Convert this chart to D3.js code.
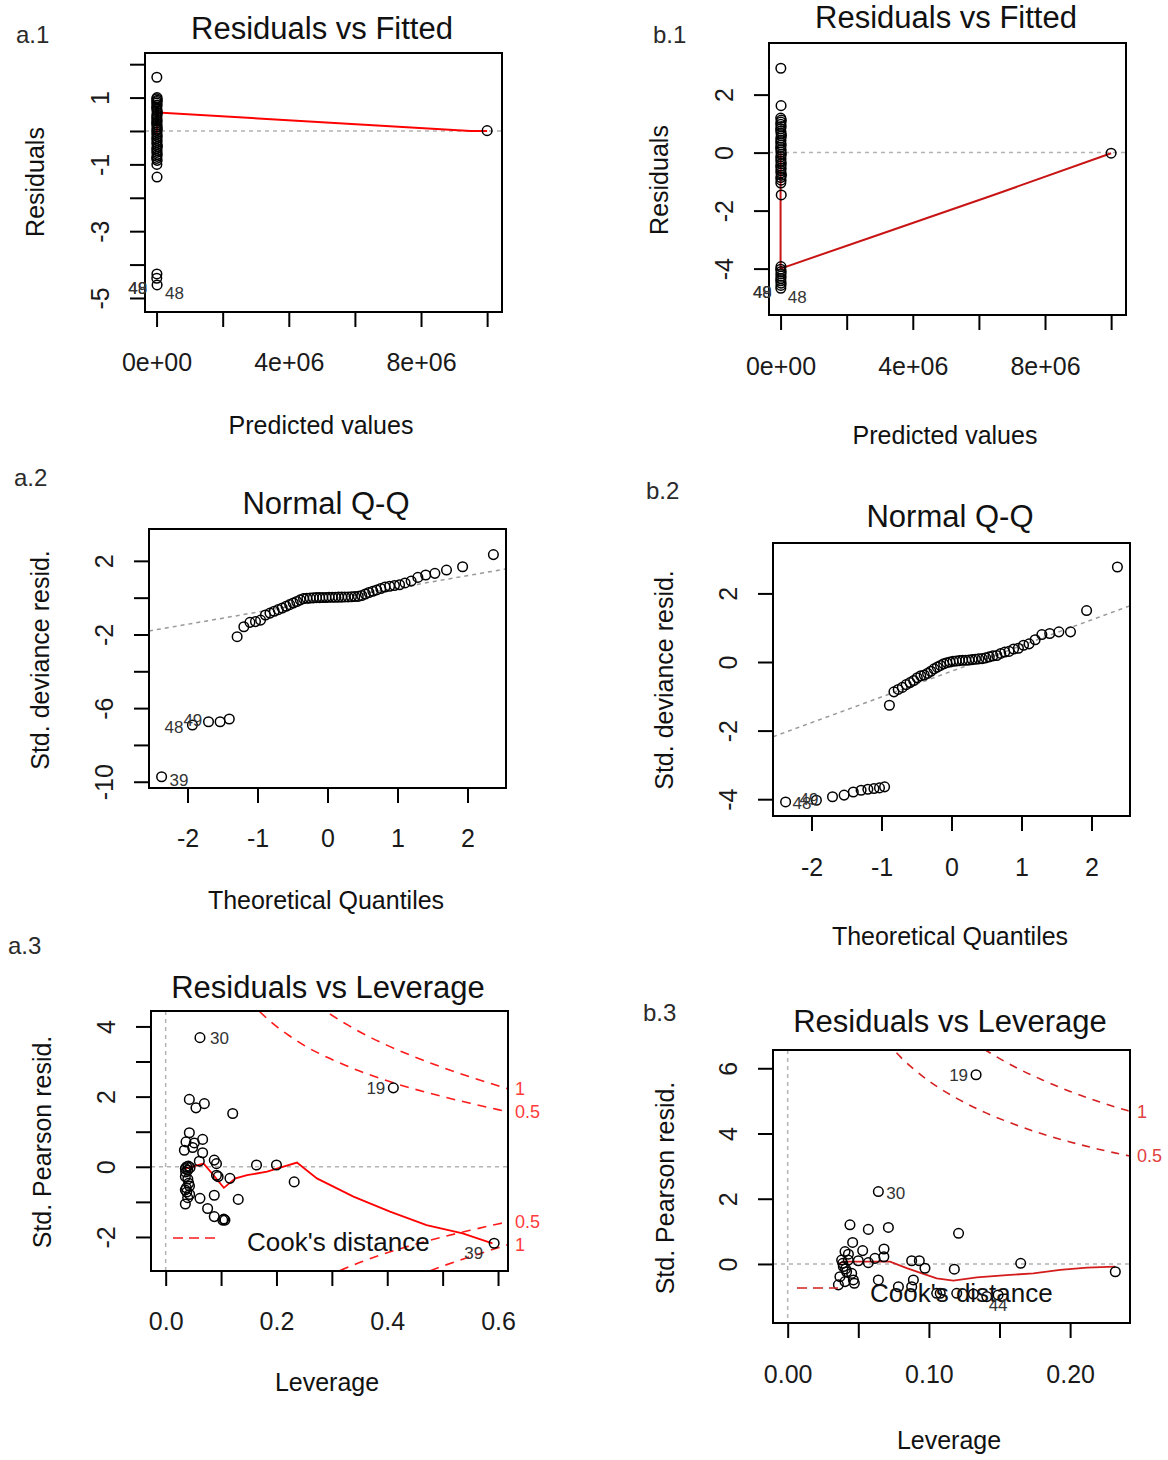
<!DOCTYPE html>
<html>
<head>
<meta charset="utf-8">
<script src="https://cdn.jsdelivr.net/npm/d3@7"></script>
<style>
  body { margin: 0; background: #fff; }
  svg { display: block; }
</style>
</head>
<body>
<svg id="chart" width="1168" height="1460"></svg>
<script>
// ---------------- data ----------------

// a.1  Residuals vs Fitted
const a1Fitted = [8000,15000,4000,22000,11000,6000,18000,3000,9000,14000,25000,7000,12000,5000,19000,2000,16000,10000,23000,6000,13000,8000,21000,4000,17000,9000,11000,26000,5000,15000,7000,20000,12000,3000,18000,9000,14000,10000,6000,16000,10000000];
const a1Resid = [1.61,1.00,0.96,0.92,0.88,0.84,0.78,0.72,0.66,0.60,0.54,0.48,0.42,0.36,0.30,0.24,0.18,0.12,0.06,0.02,-0.04,-0.10,-0.16,-0.22,-0.28,-0.34,-0.40,-0.46,-0.52,-0.58,-0.64,-0.70,-0.76,-0.82,-0.88,-1.00,-1.38,-4.28,-4.41,-4.61,0.01];
const a1SmoothX = [0, 50000, 9500000, 10000000];
const a1SmoothY = [-0.07, 0.55, 0.0, 0.0];
const a1XTicks = [0, 2e6, 4e6, 6e6, 8e6, 1e7];
const a1XLabels = ["0e+00", "", "4e+06", "", "8e+06", ""];
const a1YTicks = [2, 1, 0, -1, -2, -3, -4, -5];
const a1YLabels = ["", "1", "", "-1", "", "-3", "", "-5"];

// b.1  Residuals vs Fitted
const b1Fitted = [8000,15000,4000,22000,11000,6000,18000,3000,9000,14000,25000,7000,12000,5000,19000,2000,16000,10000,23000,6000,13000,8000,21000,4000,17000,9000,11000,26000,5000,15000,7000,20000,12000,3000,18000,9000,14000,10000,6000,16000,11000,7000,10000000];
const b1Resid = [2.91,1.62,1.19,1.12,1.05,0.98,0.90,0.82,0.74,0.66,0.58,0.50,0.42,0.34,0.26,0.18,0.10,0.02,-0.06,-0.14,-0.22,-0.30,-0.38,-0.46,-0.54,-0.62,-0.70,-0.78,-0.86,-0.95,-1.05,-1.46,-3.93,-4.02,-4.10,-4.18,-4.26,-4.34,-4.42,-4.50,-4.58,-4.68,-0.02];
const b1SmoothX = [0, 0, 3100000, 6400000, 10000000];
const b1SmoothY = [-0.02, -4.0, -2.78, -1.48, -0.02];
const b1XTicks = [0, 2e6, 4e6, 6e6, 8e6, 1e7];
const b1XLabels = ["0e+00", "", "4e+06", "", "8e+06", ""];
const b1YTicks = [2, 0, -2, -4];
const b1YLabels = ["2", "0", "-2", "-4"];

// theoretical normal quantiles for 56 observations (shared by a.2 and b.2)
const qqTheoretical = [-2.37,-1.93,-1.70,-1.534,-1.403,-1.291,-1.195,-1.108,-1.029,-0.956,-0.887,-0.822,-0.761,-0.703,-0.647,-0.592,-0.540,-0.489,-0.439,-0.390,-0.342,-0.295,-0.249,-0.203,-0.157,-0.112,-0.067,-0.022,0.022,0.067,0.112,0.157,0.203,0.249,0.295,0.342,0.390,0.439,0.489,0.540,0.592,0.647,0.703,0.761,0.822,0.887,0.956,1.029,1.108,1.195,1.291,1.403,1.534,1.70,1.93,2.37];

// a.2  Normal Q-Q (sorted std. deviance residuals)
const a2Sorted = [-9.73,-6.92,-6.74,-6.74,-6.59,
  -2.12,-1.58,-1.34,-1.30,-1.22,
  -0.94,-0.84,-0.74,-0.65,-0.56,-0.47,-0.38,-0.29,-0.21,-0.12,-0.05,
  -0.03,-0.02,-0.01,0.0,0.0,0.01,0.01,0.02,0.02,0.02,0.03,0.03,0.04,0.04,0.05,0.06,0.07,
  0.12,0.20,0.28,0.35,0.42,0.50,0.58,0.62,0.66,0.70,0.80,0.90,1.10,1.23,1.32,1.50,1.68,2.34];
const a2LineX = [-2.55, 2.55];
const a2LineY = [-1.81, 1.56];
const a2XTicks = [-2, -1, 0, 1, 2];
const a2XLabels = ["-2", "-1", "0", "1", "2"];
const a2YTicks = [2, 0, -2, -4, -6, -8, -10];
const a2YLabels = ["2", "", "-2", "", "-6", "", "-10"];

// b.2  Normal Q-Q
const b2Sorted = [-4.08,-4.03,-3.93,-3.88,-3.79,-3.74,-3.71,-3.69,-3.67,-3.64,
  -1.26,-0.87,-0.80,-0.74,-0.66,-0.60,-0.54,-0.46,-0.40,-0.38,-0.33,
  -0.27,-0.20,-0.15,-0.10,-0.05,-0.02,0.0,
  0.02,0.03,0.04,0.05,0.05,0.06,0.07,0.08,0.09,0.10,0.12,0.15,0.18,
  0.19,0.25,0.29,0.31,0.38,0.40,0.49,0.53,0.65,0.80,0.83,0.88,0.88,1.50,2.77];
const b2LineX = [-2.55, 2.55];
const b2LineY = [-2.18, 1.64];
const b2XTicks = [-2, -1, 0, 1, 2];
const b2XLabels = ["-2", "-1", "0", "1", "2"];
const b2YTicks = [2, 0, -2, -4];
const b2YLabels = ["2", "0", "-2", "-4"];

// a.3  Residuals vs Leverage
const a3Lev = [0.0619,0.0427,0.0547,0.0698,0.121,0.0427,0.0367,0.0517,0.0667,0.0337,0.0487,0.0667,0.0877,0.0917,0.0607,0.164,0.200,0.232,0.0917,0.0947,0.116,0.0355,0.0397,0.0355,0.0415,0.0373,0.0355,0.0433,0.0397,0.0619,0.0877,0.131,0.0355,0.0757,0.0877,0.103,0.107,0.105,0.411,0.593,0.038,0.041,0.044,0.036,0.040,0.043,0.038];
const a3Res = [3.68,1.92,1.68,1.80,1.52,0.97,0.71,0.68,0.78,0.47,0.55,0.40,0.19,0.09,0.16,0.05,0.05,-0.43,-0.24,-0.28,-0.33,-0.05,-0.10,-0.28,-0.47,-0.60,-0.66,-0.79,-0.88,-0.90,-0.81,-0.93,-1.06,-1.19,-1.42,-1.52,-1.52,-1.49,2.25,-2.18,0.0,0.02,-0.02,-0.15,-0.35,-0.55,-0.72];
const a3SmoothLev = [0.0355,0.0685,0.0865,0.105,0.126,0.147,0.183,0.237,0.273,0.339,0.405,0.471,0.536,0.590];
const a3SmoothRes = [-0.05,0.09,-0.24,-0.60,-0.33,-0.24,-0.14,0.12,-0.33,-0.85,-1.28,-1.66,-1.90,-2.18];
// Cook's distance contours (p = 8)
const a3CookHalfLev = [0.15,0.16,0.17,0.18,0.20,0.22,0.25,0.30,0.35,0.40,0.45,0.50,0.55,0.60,0.618];
const a3CookHalf    = [4.76,4.58,4.42,4.27,4.00,3.77,3.46,3.06,2.73,2.45,2.21,2.00,1.81,1.63,1.57];
const a3CookOneLev  = [0.25,0.28,0.30,0.33,0.35,0.40,0.45,0.50,0.55,0.60,0.618];
const a3CookOne     = [4.90,4.54,4.32,4.03,3.85,3.46,3.13,2.83,2.56,2.31,2.22];
const a3XTicks = [0, 0.1, 0.2, 0.3, 0.4, 0.5, 0.6];
const a3XLabels = ["0.0", "", "0.2", "", "0.4", "", "0.6"];
const a3YTicks = [4, 3, 2, 1, 0, -1, -2];
const a3YLabels = ["4", "", "2", "", "0", "", "-2"];

// b.3  Residuals vs Leverage
const b3Lev = [0.1334,0.0642,0.0441,0.0571,0.0713,0.121,0.0460,0.0406,0.0531,0.0682,0.0618,0.0571,0.0681,0.0878,0.0932,0.0972,0.118,0.165,0.232,0.0382,0.0394,0.0417,0.0370,0.0465,0.0406,0.0472,0.0359,0.0453,0.0429,0.0642,0.0784,0.089,0.0878,0.1055,0.108,0.1197,0.1315,0.141,0.149,0.039,0.041,0.043,0.050];
const b3Res = [5.80,2.22,1.20,1.06,1.12,0.94,0.66,0.38,0.41,0.46,0.17,0.04,0.22,0.10,0.10,-0.13,-0.16,0.02,-0.24,0.12,-0.08,-0.24,-0.39,-0.49,-0.54,-0.59,-0.64,-0.29,0.12,-0.49,-0.70,-0.49,-0.70,-0.90,-0.90,-0.90,-0.92,-1.00,-0.95,0.02,-0.15,0.30,0.10];
const b3SmoothLev = [0.036,0.0394,0.0725,0.0843,0.1055,0.1173,0.134,0.155,0.174,0.193,0.212,0.232];
const b3SmoothRes = [0.0,0.07,0.07,-0.13,-0.44,-0.51,-0.41,-0.34,-0.29,-0.18,-0.11,-0.08];
// Cook's distance contours (p = 7)
const b3CookHalfLev = [0.07,0.075,0.08,0.09,0.10,0.12,0.14,0.16,0.18,0.20,0.22,0.24,0.2424];
const b3CookHalf    = [6.82,6.57,6.34,5.95,5.61,5.07,4.64,4.29,3.99,3.74,3.52,3.33,3.31];
const b3CookOneLev  = [0.13,0.135,0.14,0.16,0.18,0.20,0.22,0.24,0.2424];
const b3CookOne     = [6.84,6.70,6.56,6.06,5.65,5.29,4.98,4.71,4.68];
const b3XTicks = [0, 0.05, 0.10, 0.15, 0.20];
const b3XLabels = ["0.00", "", "0.10", "", "0.20"];
const b3YTicks = [6, 4, 2, 0];
const b3YLabels = ["6", "4", "2", "0"];

// ---------------- drawing ----------------
const FONT = '"Liberation Sans", Arial, Helvetica, sans-serif';
const svg = d3.select("#chart").attr("font-family", FONT);
const defs = svg.append("defs");

function panel(cfg) {
  const b = cfg.box;
  const x = d3.scaleLinear().domain(cfg.xDomain).range([b.l, b.r]);
  const y = d3.scaleLinear().domain(cfg.yDomain).range([b.b, b.t]);
  const g = svg.append("g").attr("class", "panel-" + cfg.id);

  defs.append("clipPath").attr("id", "clip-" + cfg.id)
    .append("rect").attr("x", b.l).attr("y", b.t)
    .attr("width", b.r - b.l).attr("height", b.b - b.t);
  const plot = g.append("g").attr("clip-path", `url(#clip-${cfg.id})`);

  // axes
  const xa = g.append("g").attr("transform", `translate(0,${b.b})`)
    .call(d3.axisBottom(x).tickValues(cfg.xTicks).tickSize(15).tickSizeOuter(0)
      .tickFormat(d => cfg.xLabels[cfg.xTicks.indexOf(d)]));
  const ya = g.append("g").attr("transform", `translate(${b.l},0)`)
    .call(d3.axisLeft(y).tickValues(cfg.yTicks).tickSize(15).tickSizeOuter(0)
      .tickFormat(d => cfg.yLabels[cfg.yTicks.indexOf(d)]));
  [xa, ya].forEach(a => {
    a.attr("font-family", null).attr("font-size", null);
    a.select(".domain").remove();
    a.selectAll(".tick line").attr("stroke", "#000").attr("stroke-width", 2);
    a.selectAll(".tick text").attr("font-size", 25).attr("fill", "#1a1a1a");
  });
  xa.selectAll(".tick text").attr("y", cfg.xLabelOffset).attr("dy", null);
  ya.selectAll(".tick text").attr("x", 0).attr("dy", null)
    .attr("y", -36).attr("transform", "rotate(-90)").attr("text-anchor", "middle");

  // titles
  g.append("text").attr("x", cfg.title.x).attr("y", cfg.title.y)
    .attr("text-anchor", "middle").attr("font-size", 31).attr("fill", "#111")
    .text(cfg.title.text);
  g.append("text").attr("x", cfg.xTitle.x).attr("y", cfg.xTitle.y)
    .attr("text-anchor", "middle").attr("font-size", 25).attr("fill", "#111")
    .text(cfg.xTitle.text);
  g.append("text").attr("transform", `translate(${cfg.yTitle.x},${cfg.yTitle.y}) rotate(-90)`)
    .attr("text-anchor", "middle").attr("font-size", 25).attr("fill", "#111")
    .text(cfg.yTitle.text);
  g.append("text").attr("x", cfg.tag.x).attr("y", cfg.tag.y)
    .attr("font-size", 24).attr("fill", "#2a2a2a").text(cfg.tag.text);

  return { g, plot, x, y, box: b };
}

function refLine(p, orient, value) {
  const b = p.box;
  const l = p.plot.append("line").attr("stroke", "#b3b3b3")
    .attr("stroke-width", 1.5).attr("stroke-dasharray", "4,4");
  if (orient === "h") l.attr("x1", b.l).attr("x2", b.r).attr("y1", p.y(value)).attr("y2", p.y(value));
  else l.attr("y1", b.t).attr("y2", b.b).attr("x1", p.x(value)).attr("x2", p.x(value));
}

function path(p, xs, ys, style) {
  const line = d3.line().x(d => p.x(d[0])).y(d => p.y(d[1]));
  if (style.curve) line.curve(style.curve);
  return p.plot.append("path").datum(d3.zip(xs, ys)).attr("d", line)
    .attr("fill", "none").attr("stroke", style.color)
    .attr("stroke-width", style.width || 1.6)
    .attr("stroke-dasharray", style.dash || null);
}

function points(p, xs, ys) {
  p.plot.append("g").selectAll("circle").data(d3.zip(xs, ys)).join("circle")
    .attr("cx", d => p.x(d[0])).attr("cy", d => p.y(d[1])).attr("r", 4.8)
    .attr("fill", "none").attr("stroke", "#000").attr("stroke-width", 1.5);
}

function frame(p) {
  const b = p.box;
  p.g.append("rect").attr("x", b.l).attr("y", b.t).attr("width", b.r - b.l).attr("height", b.b - b.t)
    .attr("fill", "none").attr("stroke", "#000").attr("stroke-width", 2);
}

function pointLabels(p, xs, ys, labels) {
  labels.forEach(lb => {
    p.g.append("text").attr("x", p.x(xs[lb.i]) + lb.dx).attr("y", p.y(ys[lb.i]) + lb.dy)
      .attr("text-anchor", lb.anchor).attr("font-size", 17).attr("fill", "#333").text(lb.text);
  });
}

function cookLabels(p, items, color) {
  items.forEach(it => {
    p.g.append("text").attr("x", p.box.r + 7).attr("y", p.y(it.v)).attr("dy", "0.35em")
      .attr("font-size", 18).attr("fill", color).text(it.text);
  });
}

function legend(p, x1, x2, yLine, xText, yText, color) {
  p.g.append("line").attr("x1", x1).attr("x2", x2).attr("y1", yLine).attr("y2", yLine)
    .attr("stroke", color).attr("stroke-width", 1.6).attr("stroke-dasharray", "10,6");
  p.g.append("text").attr("x", xText).attr("y", yText).attr("font-size", 26).attr("fill", "#111")
    .text("Cook's distance");
}

// ----- a.1 -----
{
  const p = panel({
    id: "a1", box: { l: 145, r: 502, t: 53, b: 312 },
    xDomain: [-0.35e6, 10.45e6], yDomain: [-5.42, 2.335],
    xTicks: a1XTicks, xLabels: a1XLabels, yTicks: a1YTicks, yLabels: a1YLabels, xLabelOffset: 59,
    title: { text: "Residuals vs Fitted", x: 322, y: 39 },
    xTitle: { text: "Predicted values", x: 321, y: 434 },
    yTitle: { text: "Residuals", x: 44, y: 182 },
    tag: { text: "a.1", x: 16, y: 43 }
  });
  refLine(p, "h", 0);
  path(p, a1SmoothX, a1SmoothY, { color: "#ff0000", width: 2 });
  points(p, a1Fitted, a1Resid);
  frame(p);
  pointLabels(p, a1Fitted, a1Resid, [
    { i: 39, text: "49", dx: -10, dy: 9, anchor: "end" },
    { i: 39, text: "48", dx: -10, dy: 9, anchor: "end" },
    { i: 39, text: "48", dx: 8, dy: 14, anchor: "start" }
  ]);
}

// ----- b.1 -----
{
  const p = panel({
    id: "b1", box: { l: 769, r: 1126, t: 43, b: 315 },
    xDomain: [-0.35e6, 10.45e6], yDomain: [-5.6, 3.78],
    xTicks: b1XTicks, xLabels: b1XLabels, yTicks: b1YTicks, yLabels: b1YLabels, xLabelOffset: 60,
    title: { text: "Residuals vs Fitted", x: 946, y: 28 },
    xTitle: { text: "Predicted values", x: 945, y: 444 },
    yTitle: { text: "Residuals", x: 668, y: 180 },
    tag: { text: "b.1", x: 653, y: 43 }
  });
  refLine(p, "h", 0);
  path(p, b1SmoothX, b1SmoothY, { color: "#c81414", width: 2 });
  points(p, b1Fitted, b1Resid);
  frame(p);
  pointLabels(p, b1Fitted, b1Resid, [
    { i: 41, text: "49", dx: -9, dy: 10, anchor: "end" },
    { i: 41, text: "48", dx: -9, dy: 10, anchor: "end" },
    { i: 41, text: "48", dx: 7, dy: 15, anchor: "start" }
  ]);
}

// ----- a.2 -----
{
  const p = panel({
    id: "a2", box: { l: 149, r: 506, t: 529, b: 788 },
    xDomain: [-2.55, 2.55], yDomain: [-10.34, 3.73],
    xTicks: a2XTicks, xLabels: a2XLabels, yTicks: a2YTicks, yLabels: a2YLabels, xLabelOffset: 59,
    title: { text: "Normal Q-Q", x: 326, y: 514 },
    xTitle: { text: "Theoretical Quantiles", x: 326, y: 909 },
    yTitle: { text: "Std. deviance resid.", x: 49, y: 660 },
    tag: { text: "a.2", x: 14, y: 486 }
  });
  path(p, a2LineX, a2LineY, { color: "#999", width: 1.5, dash: "4,4" });
  points(p, qqTheoretical, a2Sorted);
  frame(p);
  pointLabels(p, qqTheoretical, a2Sorted, [
    { i: 0, text: "39", dx: 8, dy: 9, anchor: "start" },
    { i: 1, text: "48", dx: -9, dy: 8, anchor: "end" },
    { i: 1, text: "49", dx: -9, dy: 1, anchor: "start" }
  ]);
}

// ----- b.2 -----
{
  const p = panel({
    id: "b2", box: { l: 773, r: 1130, t: 543, b: 816 },
    xDomain: [-2.55, 2.55], yDomain: [-4.49, 3.47],
    xTicks: b2XTicks, xLabels: b2XLabels, yTicks: b2YTicks, yLabels: b2YLabels, xLabelOffset: 60,
    title: { text: "Normal Q-Q", x: 950, y: 527 },
    xTitle: { text: "Theoretical Quantiles", x: 950, y: 945 },
    yTitle: { text: "Std. deviance resid.", x: 673, y: 680 },
    tag: { text: "b.2", x: 646, y: 499 }
  });
  path(p, b2LineX, b2LineY, { color: "#999", width: 1.5, dash: "4,4" });
  points(p, qqTheoretical, b2Sorted);
  frame(p);
  pointLabels(p, qqTheoretical, b2Sorted, [
    { i: 0, text: "48", dx: 7, dy: 7, anchor: "start" },
    { i: 0, text: "49", dx: 14, dy: 3, anchor: "start" }
  ]);
}

// ----- a.3 -----
{
  const p = panel({
    id: "a3", box: { l: 151, r: 508, t: 1011, b: 1271 },
    xDomain: [-0.0265, 0.618], yDomain: [-2.97, 4.44],
    xTicks: a3XTicks, xLabels: a3XLabels, yTicks: a3YTicks, yLabels: a3YLabels, xLabelOffset: 59,
    title: { text: "Residuals vs Leverage", x: 328, y: 998 },
    xTitle: { text: "Leverage", x: 327, y: 1391 },
    yTitle: { text: "Std. Pearson resid.", x: 51, y: 1142 },
    tag: { text: "a.3", x: 8, y: 954 }
  });
  refLine(p, "h", 0);
  refLine(p, "v", 0);
  const cook = { color: "#ff1a1a", width: 1.6, dash: "9,7", curve: d3.curveMonotoneX };
  path(p, a3CookHalfLev, a3CookHalf, cook);
  path(p, a3CookOneLev, a3CookOne, cook);
  path(p, a3CookHalfLev, a3CookHalf.map(v => -v), cook);
  path(p, a3CookOneLev, a3CookOne.map(v => -v), cook);
  path(p, a3SmoothLev, a3SmoothRes, { color: "#ff0000", width: 1.8 });
  points(p, a3Lev, a3Res);
  legend(p, 173, 215, 1238, 247, 1251, "#ff1a1a");
  frame(p);
  const lastHalf = a3CookHalf[a3CookHalf.length - 1], lastOne = a3CookOne[a3CookOne.length - 1];
  cookLabels(p, [
    { text: "1", v: lastOne }, { text: "0.5", v: lastHalf },
    { text: "0.5", v: -lastHalf }, { text: "1", v: -lastOne }
  ], "#ff3b3b");
  pointLabels(p, a3Lev, a3Res, [
    { i: 0, text: "30", dx: 10, dy: 6.5, anchor: "start" },
    { i: 38, text: "19", dx: -8, dy: 6, anchor: "end" },
    { i: 39, text: "39", dx: -11, dy: 16, anchor: "end" }
  ]);
}

// ----- b.3 -----
{
  const p = panel({
    id: "b3", box: { l: 773, r: 1130, t: 1050, b: 1323 },
    xDomain: [-0.0104, 0.2424], yDomain: [-1.81, 6.56],
    xTicks: b3XTicks, xLabels: b3XLabels, yTicks: b3YTicks, yLabels: b3YLabels, xLabelOffset: 60,
    title: { text: "Residuals vs Leverage", x: 950, y: 1032 },
    xTitle: { text: "Leverage", x: 949, y: 1449 },
    yTitle: { text: "Std. Pearson resid.", x: 674, y: 1188 },
    tag: { text: "b.3", x: 643, y: 1021 }
  });
  refLine(p, "h", 0);
  refLine(p, "v", 0);
  const cook = { color: "#d42020", width: 1.6, dash: "8,7", curve: d3.curveMonotoneX };
  path(p, b3CookHalfLev, b3CookHalf, cook);
  path(p, b3CookOneLev, b3CookOne, cook);
  path(p, b3SmoothLev, b3SmoothRes, { color: "#d41c1c", width: 1.8 });
  points(p, b3Lev, b3Res);
  legend(p, 797, 838, 1288, 870, 1302, "#d42020");
  frame(p);
  cookLabels(p, [
    { text: "1", v: b3CookOne[b3CookOne.length - 1] },
    { text: "0.5", v: b3CookHalf[b3CookHalf.length - 1] }
  ], "#e04040");
  pointLabels(p, b3Lev, b3Res, [
    { i: 0, text: "19", dx: -8, dy: 6, anchor: "end" },
    { i: 1, text: "30", dx: 8, dy: 7, anchor: "start" },
    { i: 38, text: "44", dx: 0, dy: 16, anchor: "middle" }
  ]);
}
</script>
</body>
</html>
